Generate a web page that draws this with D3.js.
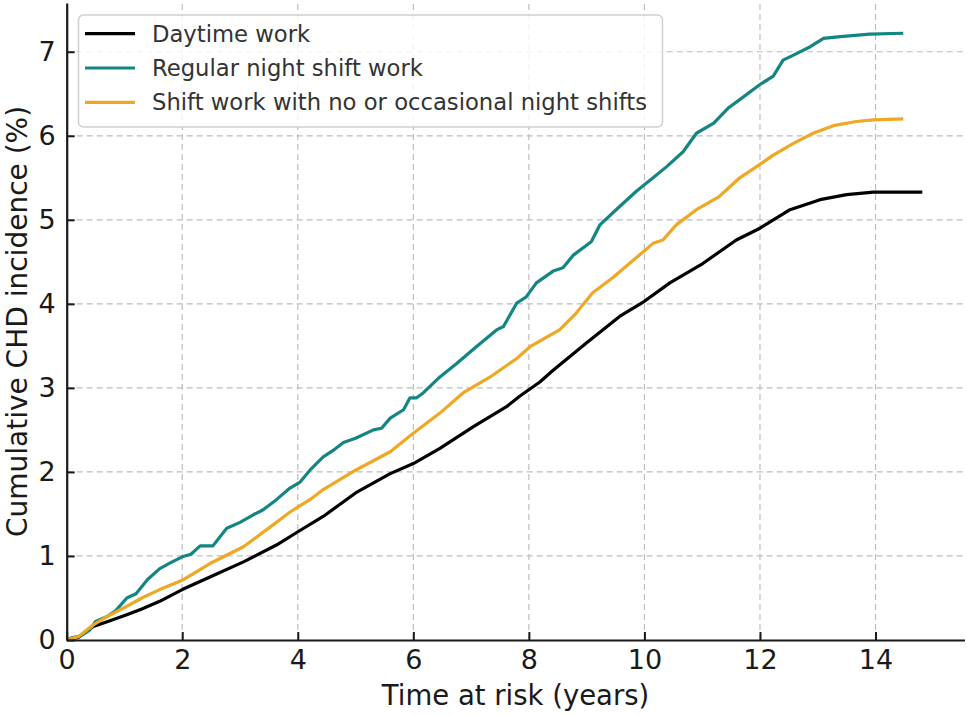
<!DOCTYPE html>
<html>
<head>
<meta charset="utf-8">
<script src="https://cdn.jsdelivr.net/npm/d3@7"></script>
<style>
  html, body { margin: 0; padding: 0; background: #fff; }
  svg { display: block; font-family: "DejaVu Sans", sans-serif; }
</style>
</head>
<body>
<svg id="chart" width="967" height="716"></svg>
<script>
// ---- data ----
const seriesNames = ["Daytime work", "Regular night shift work", "Shift work with no or occasional night shifts"];
const seriesColors = ["#000000", "#138582", "#eea823"];

const daytimeT = [0, 0.2, 0.46, 0.75, 1.04, 1.3, 1.61, 2.0, 2.48, 3.06, 3.63, 4.03, 4.44, 5.0, 5.6, 6.0, 6.46, 7.04, 7.62, 7.84, 8.19, 8.42, 8.99, 9.57, 10.0, 10.44, 11.01, 11.59, 12.0, 12.52, 13.04, 13.5, 13.96, 14.81];
const daytimeV = [0, 0.03, 0.16, 0.23, 0.30, 0.37, 0.46, 0.60, 0.75, 0.93, 1.13, 1.30, 1.47, 1.75, 1.98, 2.10, 2.28, 2.54, 2.78, 2.90, 3.07, 3.21, 3.53, 3.85, 4.03, 4.25, 4.48, 4.76, 4.90, 5.12, 5.24, 5.30, 5.33, 5.33];

const nightT = [0, 0.1, 0.25, 0.4, 0.5, 0.7, 0.85, 1.04, 1.2, 1.4, 1.61, 1.8, 2.0, 2.15, 2.31, 2.53, 2.77, 3.0, 3.23, 3.4, 3.63, 3.85, 4.04, 4.21, 4.44, 4.6, 4.79, 5.0, 5.31, 5.45, 5.6, 5.83, 5.94, 6.05, 6.17, 6.46, 6.75, 7.09, 7.44, 7.56, 7.79, 7.95, 8.13, 8.42, 8.59, 8.77, 9.08, 9.23, 9.51, 9.86, 10.15, 10.38, 10.67, 10.9, 11.2, 11.45, 11.65, 12.0, 12.23, 12.4, 12.58, 12.87, 13.1, 13.39, 13.9, 14.48];
const nightV = [0, 0.03, 0.05, 0.12, 0.22, 0.28, 0.35, 0.50, 0.55, 0.72, 0.85, 0.92, 0.99, 1.02, 1.12, 1.12, 1.33, 1.40, 1.49, 1.55, 1.67, 1.80, 1.88, 2.02, 2.18, 2.25, 2.35, 2.40, 2.50, 2.52, 2.64, 2.74, 2.88, 2.88, 2.94, 3.13, 3.29, 3.49, 3.69, 3.73, 4.01, 4.08, 4.25, 4.39, 4.43, 4.58, 4.74, 4.94, 5.12, 5.34, 5.50, 5.63, 5.81, 6.03, 6.15, 6.33, 6.43, 6.61, 6.71, 6.90, 6.96, 7.06, 7.16, 7.18, 7.21, 7.22];

const shiftT = [0, 0.2, 0.46, 0.7, 1.04, 1.3, 1.61, 2.0, 2.48, 3.06, 3.63, 3.86, 4.0, 4.21, 4.44, 5.0, 5.6, 6.0, 6.46, 6.86, 7.33, 7.79, 8.02, 8.53, 8.82, 9.1, 9.45, 9.74, 10.15, 10.32, 10.55, 10.9, 11.3, 11.65, 12.0, 12.23, 12.58, 12.92, 13.27, 13.67, 13.96, 14.48];
const shiftV = [0, 0.04, 0.18, 0.28, 0.40, 0.50, 0.60, 0.71, 0.91, 1.11, 1.40, 1.52, 1.58, 1.67, 1.79, 2.02, 2.24, 2.46, 2.70, 2.94, 3.13, 3.35, 3.49, 3.69, 3.89, 4.13, 4.31, 4.48, 4.72, 4.76, 4.94, 5.12, 5.28, 5.50, 5.66, 5.77, 5.91, 6.03, 6.12, 6.17, 6.19, 6.20];

const xTicks = [0, 2, 4, 6, 8, 10, 12, 14];
const yTicks = [0, 1, 2, 3, 4, 5, 6, 7];
const xLabel = "Time at risk (years)";
const yLabel = "Cumulative CHD incidence (%)";

// ---- layout ----
const svg = d3.select("#chart");
const L = 66.7, R = 964.5, T = 3, B = 640;
const x = d3.scaleLinear().domain([0, 15.54]).range([L, R]);
const y = d3.scaleLinear().domain([0, 7.58]).range([B, T]);

// grid
const grid = svg.append("g");
grid.selectAll("line.gx").data(xTicks.filter(d => d > 0)).join("line")
  .attr("x1", d => x(d)).attr("x2", d => x(d)).attr("y1", B).attr("y2", T)
  .attr("stroke", "#bdbdbd").attr("stroke-width", 1.2).attr("stroke-dasharray", "6,4");
grid.selectAll("line.gy").data(yTicks.filter(d => d > 0)).join("line")
  .attr("x1", L).attr("x2", R).attr("y1", d => y(d)).attr("y2", d => y(d))
  .attr("stroke", "#bdbdbd").attr("stroke-width", 1.2).attr("stroke-dasharray", "6,4");

// lines
const series = [
  { t: daytimeT, v: daytimeV },
  { t: nightT, v: nightV },
  { t: shiftT, v: shiftV }
];
const lineGen = d3.line().x(d => x(d[0])).y(d => y(d[1]));
[0, 1, 2].forEach(i => {
  const pts = series[i].t.map((t, j) => [t, series[i].v[j]]);
  svg.append("path").datum(pts)
    .attr("d", lineGen).attr("fill", "none")
    .attr("stroke", seriesColors[i]).attr("stroke-width", 3.2)
    .attr("stroke-linejoin", "round").attr("stroke-linecap", "butt");
});

// axes
const xAxis = d3.axisBottom(x).tickValues(xTicks).tickSizeInner(-8).tickSizeOuter(0).tickPadding(10);
const yAxis = d3.axisLeft(y).tickValues(yTicks).tickSizeInner(-8).tickSizeOuter(0).tickPadding(11);
const gx = svg.append("g").attr("transform", `translate(0,${B})`).call(xAxis);
const gy = svg.append("g").attr("transform", `translate(${L},0)`).call(yAxis);
[gx, gy].forEach(g => {
  g.select(".domain").attr("stroke", "#1a1a1a").attr("stroke-width", 2.2);
  g.selectAll(".tick line").attr("stroke", "#1a1a1a").attr("stroke-width", 2);
  g.selectAll(".tick text").attr("fill", "#1a1a1a")
    .style("font-family", "DejaVu Sans").style("font-size", "27px");
});
gx.selectAll(".tick text").attr("dy", "0.71em");

// axis labels
svg.append("text").attr("x", (L + R) / 2).attr("y", 705)
  .attr("text-anchor", "middle").attr("fill", "#1a1a1a")
  .style("font-size", "27.5px").text(xLabel);
svg.append("text").attr("transform", `translate(27,${(T + B) / 2}) rotate(-90)`)
  .attr("text-anchor", "middle").attr("fill", "#1a1a1a")
  .style("font-size", "28px").text(yLabel);

// legend
const lg = svg.append("g");
lg.append("rect").attr("x", 78.5).attr("y", 15).attr("width", 584).attr("height", 112)
  .attr("rx", 5).attr("fill", "#fff").attr("fill-opacity", 0.8)
  .attr("stroke", "#d0d0d0").attr("stroke-width", 1.5);
seriesNames.forEach((name, i) => {
  const cy = 33.7 + i * 34.3;
  lg.append("line").attr("x1", 85).attr("x2", 135).attr("y1", cy).attr("y2", cy)
    .attr("stroke", seriesColors[i]).attr("stroke-width", 3.2);
  lg.append("text").attr("x", 152).attr("y", cy + 8).attr("fill", "#333")
    .style("font-size", "22.7px").text(name);
});
</script>
</body>
</html>
